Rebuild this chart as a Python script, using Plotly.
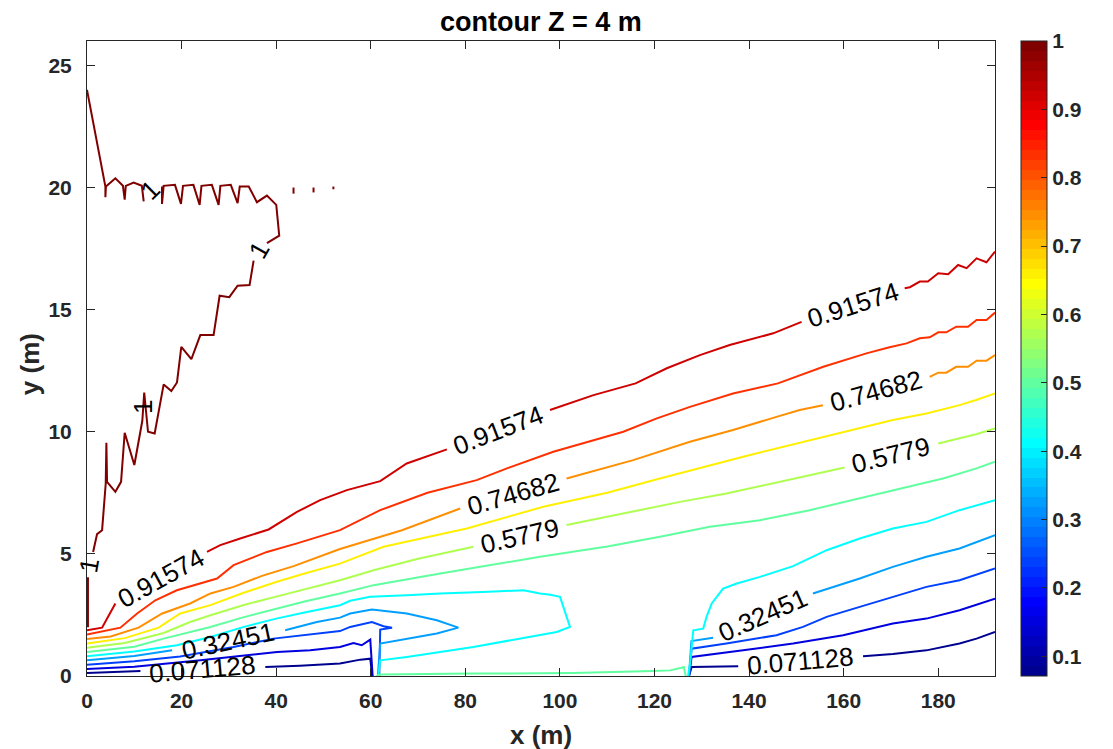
import plotly.graph_objects as go

# ---------------- data ----------------
levels = [0.071128, 0.155589, 0.240050, 0.324511, 0.408972, 0.493433,
          0.577894, 0.662355, 0.746816, 0.831277, 0.915738, 1.000199]
c_min = 0.071128
c_max = 1.0

# contour polylines (x, y) per level, one list of segments each
lev00 = [
    [(0, 0.12), (5, 0.15), (11.3, 0.2)],
    [(37.7, 0.37), (45, 0.42), (53.5, 0.51), (57.8, 0.67), (59.9, 0.71), (60.3, 0.0)],
    [(127.3, 0.0), (127.85, 0.37), (137.7, 0.4)],
    [(164.1, 0.81), (170.4, 0.9), (177.5, 1.05), (184.5, 1.33), (188.1, 1.53), (192, 1.8)],
]
lev01 = [
    [(0, 0.29), (10, 0.38), (24, 0.64), (32, 0.82), (40.2, 0.98), (47.2, 1.05), (53.5, 1.19),
     (56.35, 1.35), (58.1, 1.26), (59.9, 1.49), (60.4, 0.0)],
    [(127.3, 0.0), (127.85, 0.78), (138.75, 1.05), (149.3, 1.33), (159.9, 1.67), (170.4, 2.15),
     (177.5, 2.35), (184.5, 2.69), (192, 3.17)],
]
lev02 = [
    [(0, 0.46), (10, 0.6), (19.7, 0.8), (24, 0.95), (31, 1.19), (39.4, 1.53), (48.6, 1.74),
     (53.5, 1.84), (55.65, 2.01), (58, 2.1), (60.24, 2.21), (62.7, 2.04), (64.5, 1.98),
     (62.0, 1.9), (61.8, 0.0)],
    [(127.3, 0.0), (127.85, 1.12), (135.2, 1.33), (145.8, 1.67), (151.4, 2.01), (156.4, 2.42),
     (163.4, 2.83), (170.4, 3.24), (177.5, 3.65), (184.5, 3.92), (192, 4.4)],
]
lev03 = [
    [(0, 0.64), (10, 0.82), (18, 1.05)],
    [(41.9, 1.87), (48.6, 2.21), (53.5, 2.39), (55.65, 2.56), (60.24, 2.72), (67.63, 2.56),
     (73.97, 2.28), (78.53, 1.98), (73.97, 1.74), (62.0, 1.33), (61.5, 0.0)],
    [(127.3, 0.0), (127.8, 1.43), (132.4, 1.57)],
    [(153.5, 3.38), (163.4, 3.99), (170.4, 4.47), (177.5, 4.88), (184.5, 5.22), (192, 5.77)],
]
lev04 = [
    [(0, 0.81), (10, 1.0), (19.0, 1.26), (26.1, 1.6), (33, 2.0), (40, 2.35), (46, 2.6),
     (53.5, 2.9), (55.65, 3.08), (57.8, 3.17), (59.88, 3.24), (67.6, 3.31), (74.67, 3.38),
     (85, 3.45), (92.27, 3.51), (95.8, 3.38), (98, 3.33), (100.02, 3.24), (102.13, 2.01),
     (99.32, 1.8), (81.7, 1.19), (67.63, 0.78), (61.99, 0.64), (61.6, 0.0)],
    [(127.1, 0.0), (127.6, 0.64), (128.2, 1.87), (130.3, 1.94), (131.0, 2.42), (132.1, 2.97),
     (134.5, 3.58), (137.4, 3.79), (142.3, 4.06), (149.3, 4.5), (156.4, 5.15), (163.4, 5.63),
     (170.4, 6.04), (177.5, 6.31), (184.5, 6.79), (192, 7.2)],
]
lev05 = [
    [(0, 0.98), (10, 1.2), (16.2, 1.53), (26.1, 2.01), (33, 2.4), (40, 2.75), (46, 3.05),
     (53.5, 3.38), (60.6, 3.72), (74.7, 4.2), (95.8, 4.88), (110, 5.3), (121.15, 5.7),
     (131.7, 6.11), (142.3, 6.38), (152.8, 6.79), (163.4, 7.27), (174.0, 7.75), (181.0, 8.09),
     (188.1, 8.5), (192, 8.77)],
    [(61.2, 0.0), (62.0, 0.06), (81.7, 0.1), (102.8, 0.12), (119.7, 0.2), (123.3, 0.23),
     (125.7, 0.34), (126.2, 0.37), (126.6, 0.0)],
]
lev06 = [
    [(0, 1.16), (8, 1.35), (16.2, 1.76), (21.8, 2.21), (26.1, 2.49), (33, 2.9), (40, 3.25),
     (46, 3.55), (53.5, 3.92), (60.6, 4.33), (70, 4.8), (81.7, 5.29)],
    [(101.4, 6.18), (112, 6.6), (125.4, 7.13), (135.2, 7.47), (149.3, 8.09), (160.2, 8.54)],
    [(180.0, 9.52), (184.5, 9.73), (188, 9.9), (192, 10.14)],
]
lev07 = [
    [(0, 1.33), (8, 1.55), (15.15, 1.98), (19.7, 2.56), (26.1, 2.9), (33, 3.4), (40, 3.85),
     (46, 4.2), (53.5, 4.6), (62.7, 5.29), (80.3, 6.04), (96.5, 6.93), (110, 7.5),
     (121.15, 8.09), (138.75, 8.98), (156.4, 9.8), (170.4, 10.48), (177.5, 10.75),
     (184.5, 11.09), (188, 11.3), (192, 11.57)],
]
lev08 = [
    [(0, 1.51), (5, 1.62), (10.9, 1.98), (15.9, 2.56), (21.8, 2.97), (26.1, 3.38), (31.0, 3.65),
     (37, 4.1), (43.7, 4.5), (53.5, 5.2), (66.6, 5.97), (78.9, 6.86)],
    [(101.4, 8.09), (115.5, 8.84), (127.5, 9.59), (136.6, 10.07), (145.8, 10.61),
     (150.7, 10.89), (155.6, 11.09)],
    [(178.2, 12.25), (180, 12.42), (181.7, 12.42), (183.8, 12.66), (186.3, 12.66),
     (188.1, 12.91), (190.2, 12.91), (192, 13.14)],
]
lev09 = [
    [(0, 1.70), (7.06, 1.98), (10.6, 2.56), (14.45, 3.1), (19.0, 3.51), (24.0, 3.79),
     (27.5, 3.99), (31.0, 4.54), (38.05, 5.08), (44.4, 5.43), (53.5, 5.97), (62.0, 6.79),
     (72, 7.5), (82.4, 8.02), (88.8, 8.5), (98.6, 9.18), (113.4, 10.0), (120.5, 10.55),
     (127.5, 11.02), (136.6, 11.57), (146.1, 11.98), (155.7, 12.66), (161.3, 13.0),
     (164.8, 13.21), (169.7, 13.46), (173.3, 13.62), (176.1, 13.83), (178.2, 13.87),
     (180.0, 14.07), (181.7, 14.07), (183.8, 14.3), (186.3, 14.3), (188.1, 14.58),
     (190.2, 14.58), (192, 14.88)],
]
lev10 = [
    [(0, 1.87), (3.19, 1.98), (4.25, 2.35), (6.0, 2.97)],
    [(25.37, 5.08), (28.19, 5.36), (32.4, 5.63), (38.4, 6.0), (44.4, 6.72), (49.3, 7.2),
     (54.95, 7.61), (62.0, 7.98), (67.6, 8.7), (76.1, 9.28)],
    [(97.9, 10.89), (107.1, 11.5), (116.0, 11.98), (122.6, 12.6), (129.6, 13.14),
     (135.9, 13.55), (145.1, 14.03), (148.6, 14.3), (151.1, 14.5)],
    [(172.9, 15.88), (174.0, 15.92), (176.1, 16.15), (177.8, 16.15), (180.0, 16.49),
     (182.1, 16.45), (184.2, 16.83), (186.0, 16.7), (188.1, 17.1), (190.2, 16.94), (192, 17.38)],
]
lev11 = [
    [(0.0, 24.0), (3.89, 20.04), (3.89, 19.6), (4.0, 20.04), (6.0, 20.38), (7.6, 20.07),
     (7.97, 19.5), (8.2, 20.07), (9.87, 20.2), (11.6, 20.07), (11.99, 19.43)],
    [(15.86, 20.04), (15.86, 19.33), (16.2, 20.07), (18.6, 20.11), (19.87, 19.33),
     (20.3, 20.07), (22.5, 20.11), (23.82, 19.29), (24.2, 20.07), (26.4, 20.11),
     (27.83, 19.29), (28.2, 20.07), (30.4, 20.11), (31.85, 19.36), (32.3, 20.04),
     (34.2, 20.04), (35.93, 19.4), (38.05, 19.67), (40.02, 19.29), (40.65, 18.03),
     (38.05, 17.72)],
    [(35.23, 17.01), (34.38, 16.01), (31.85, 15.98), (30.09, 15.51), (28.04, 15.57),
     (26.77, 13.96), (23.96, 13.96), (22.06, 12.97), (19.94, 13.48), (19.03, 12.02),
     (17.83, 11.67), (16.21, 11.94), (14.31, 9.93), (12.9, 10.0), (12.1, 11.6),
     (11.7, 10.45), (10.01, 8.64), (7.97, 9.96), (7.2, 7.95), (6.0, 7.54), (4.24, 7.95),
     (4.1, 9.55), (3.96, 7.88), (3.19, 5.97), (2.13, 5.81), (1.29, 5.08)],
    [(0.2, 4.04), (0.2, 2.0)],
    [(43.67, 20.0), (43.67, 19.75)],
    [(47.9, 20.0), (47.9, 19.8)],
    [(52.1, 20.04), (52.1, 19.93)],
]
contour_paths = [lev00, lev01, lev02, lev03, lev04, lev05,
                 lev06, lev07, lev08, lev09, lev10, lev11]

# inline contour labels
label_text = ["0.071128", "0.071128", "0.32451", "0.32451", "0.5779", "0.5779",
              "0.74682", "0.74682", "0.91574", "0.91574", "0.91574",
              "1", "1", "1", "1"]
label_x = [24.5, 150.9, 29.9, 143.0, 91.55, 170.1, 90.15, 166.9, 15.7, 87.0, 162.0,
           13.4, 36.4, 12.0, 0.5]
label_y = [0.285, 0.6, 1.44, 2.48, 5.73, 9.03, 7.47, 11.67, 4.0, 10.08, 15.19,
           19.9, 17.44, 11.0, 4.54]
label_angle = [-5, -5, -12, -24, -13, -14, -16, -15, -29, -21, -18, -45, -60, -90, -80]

x_ticks = [0, 20, 40, 60, 80, 100, 120, 140, 160, 180]
y_ticks = [0, 5, 10, 15, 20, 25]
cb_ticks = [0.1, 0.2, 0.3, 0.4, 0.5, 0.6, 0.7, 0.8, 0.9, 1.0]
cb_ticktext = ["0.1", "0.2", "0.3", "0.4", "0.5", "0.6", "0.7", "0.8", "0.9", "1"]


# ---------------- colormap (MATLAB jet, 64 colours) ----------------
def jet(m=64):
    n = (m + 3) // 4
    u = [i / n for i in range(1, n + 1)] + [1.0] * (n - 1) + [i / n for i in range(n, 0, -1)]
    off = (n + 1) // 2 - (1 if m % 4 == 1 else 0)
    g = [off + i for i in range(1, len(u) + 1)]
    r = [gi + n for gi in g]
    b = [gi - n for gi in g]
    J = [[0.0, 0.0, 0.0] for _ in range(m)]
    for k, uk in enumerate(u):
        if 1 <= r[k] <= m:
            J[r[k] - 1][0] = uk
        if 1 <= g[k] <= m:
            J[g[k] - 1][1] = uk
        if 1 <= b[k] <= m:
            J[b[k] - 1][2] = uk
    return J


JET = jet(64)


def rgb(c):
    return "rgb(%d,%d,%d)" % tuple(int(round(v * 255)) for v in c)


def level_color(v):
    t = (v - c_min) / (c_max - c_min)
    idx = int(t * 64)
    idx = max(0, min(63, idx))
    return rgb(JET[idx])


cscale = []
for i, c in enumerate(JET):
    cscale.append([i / 64, rgb(c)])
    cscale.append([(i + 1) / 64, rgb(c)])

# ---------------- figure ----------------
fig = go.Figure()

for lev, segs in zip(levels, contour_paths):
    xs, ys = [], []
    for seg in segs:
        xs += [p[0] for p in seg] + [None]
        ys += [p[1] for p in seg] + [None]
    fig.add_trace(go.Scatter(x=xs, y=ys, mode="lines",
                             line=dict(color=level_color(lev), width=2),
                             hoverinfo="skip", showlegend=False))

# colour bar via a dummy trace
fig.add_trace(go.Scatter(
    x=[-100], y=[-100], mode="markers", hoverinfo="skip", showlegend=False,
    marker=dict(color=[c_min], cmin=c_min, cmax=c_max, colorscale=cscale, showscale=True,
                size=1,
                colorbar=dict(x=1.0286, xanchor="left", xpad=0, y=0.5, yanchor="middle",
                              len=1, lenmode="fraction", ypad=0, thickness=26,
                              outlinewidth=1, outlinecolor="#262626",
                              tickvals=cb_ticks, ticktext=cb_ticktext,
                              ticks="inside", ticklen=6, tickcolor="#262626",
                              tickfont=dict(family="Liberation Sans", size=21,
                                            color="#262626", weight="bold")))))

font_tick = dict(family="Liberation Sans", size=21, color="#262626", weight="bold")

fig.update_xaxes(range=[0, 192], tickvals=x_ticks, ticks="inside", ticklen=8,
                 tickcolor="#262626", showline=True, linecolor="#262626", linewidth=1,
                 mirror="ticks", showgrid=False, zeroline=False, tickfont=font_tick,
                 ticklabelstandoff=6)
fig.update_yaxes(range=[0, 26], tickvals=y_ticks, ticks="inside", ticklen=8,
                 tickcolor="#262626", showline=True, linecolor="#262626", linewidth=1,
                 mirror="ticks", showgrid=False, zeroline=False, tickfont=font_tick,
                 ticklabelstandoff=10)

annotations = []
for t, x, y, a in zip(label_text, label_x, label_y, label_angle):
    annotations.append(dict(x=x, y=y, xref="x", yref="y", text=t, textangle=a,
                            showarrow=False,
                            font=dict(family="Liberation Sans", size=26, color="black")))

annotations.append(dict(x=0.5, y=1, xref="paper", yref="paper", yanchor="middle",
                        yshift=19, text="contour Z = 4 m", showarrow=False,
                        font=dict(family="Liberation Sans", size=27, color="black",
                                  weight="bold")))
annotations.append(dict(x=0.5, y=0, xref="paper", yref="paper", yanchor="middle",
                        yshift=-59, text="x (m)", showarrow=False,
                        font=dict(family="Liberation Sans", size=26, color="#262626",
                                  weight="bold")))
annotations.append(dict(x=0, y=0.491, xref="paper", yref="paper", xanchor="center",
                        xshift=-57, text="y (m)", textangle=-90, showarrow=False,
                        font=dict(family="Liberation Sans", size=26, color="#262626",
                                  weight="bold")))

fig.update_layout(width=1113, height=749,
                  margin=dict(l=87, r=118, t=41, b=73),
                  plot_bgcolor="white", paper_bgcolor="white",
                  annotations=annotations)

fig.write_html("out.html")
